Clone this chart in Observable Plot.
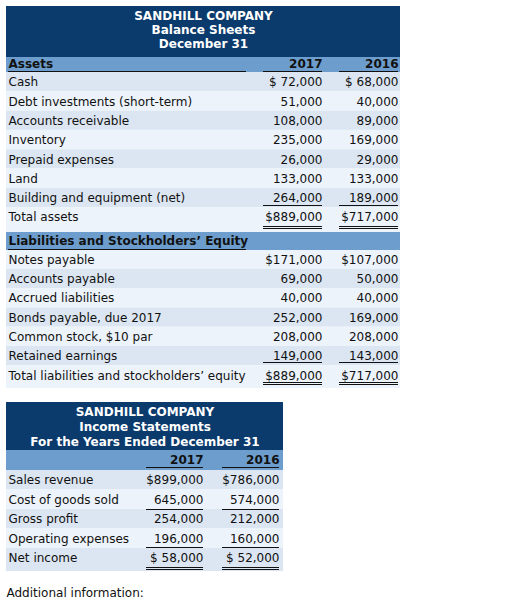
<!DOCTYPE html>
<html><head><meta charset="utf-8">
<script src="https://cdn.jsdelivr.net/npm/d3@7"></script>
<script src="https://cdn.jsdelivr.net/npm/@observablehq/plot@0.6"></script>
<style>body{margin:0;background:#fff} svg{display:block}</style>
</head><body><div id="chart"></div>
<script>
// ---------- data ----------
const company = "SANDHILL COMPANY";
const bsTitle = [company, "Balance Sheets", "December 31"];
const isTitle = [company, "Income Statements", "For the Years Ended December 31"];
const years = ["2017", "2016"];
const assetsHeader = "Assets";
const assetLabels = ["Cash", "Debt investments (short-term)", "Accounts receivable", "Inventory", "Prepaid expenses", "Land", "Building and equipment (net)"];
const assets2017 = [72000, 51000, 108000, 235000, 26000, 133000, 264000];
const assets2016 = [68000, 40000, 89000, 169000, 29000, 133000, 189000];
const totalAssetsLabel = "Total assets";
const totalAssets = [889000, 717000];
const liabHeader = "Liabilities and Stockholders’ Equity";
const liabLabels = ["Notes payable", "Accounts payable", "Accrued liabilities", "Bonds payable, due 2017", "Common stock, $10 par", "Retained earnings"];
const liab2017 = [171000, 69000, 40000, 252000, 208000, 149000];
const liab2016 = [107000, 50000, 40000, 169000, 208000, 143000];
const totalLiabLabel = "Total liabilities and stockholders’ equity";
const totalLiab = [889000, 717000];
const incomeLabels = ["Sales revenue", "Cost of goods sold", "Gross profit", "Operating expenses", "Net income"];
const income2017 = [899000, 645000, 254000, 196000, 58000];
const income2016 = [786000, 574000, 212000, 160000, 52000];
const footnote = "Additional information:";

// ---------- styling / layout ----------
const C = {dark: "#0b3a6c", mid: "#6c9dcc", rowA: "#dce6f2", rowB: "#edf3fb", ink: "#111"};
const fmt = (v, dollar) => dollar ? "$" + d3.format(",")(v).padStart(7, " ") : d3.format(",")(v);

const rects = [], tStart = [], tEnd = [], bStart = [], bEnd = [], wMid = [], rules = [];

// Balance sheet
const bs = {x1: 6, x2: 400, label: 8, cols: [322, 398], colW: 59, secW: 246};
rects.push({x1: bs.x1, x2: bs.x2, y1: 6, y2: 57, fill: C.dark});
bsTitle.forEach((t, i) => wMid.push({x: (bs.x1 + bs.x2) / 2, y: 16 + i * 14, text: t}));
// assets header
rects.push({x1: bs.x1, x2: bs.x2, y1: 57, y2: 72, fill: C.mid});
bStart.push({x: bs.label, y: 64, text: assetsHeader});
rules.push({x1: bs.label, x2: bs.secW, y: 71});
years.forEach((yr, j) => {
  bEnd.push({x: bs.cols[j], y: 64, text: yr});
  rules.push({x1: bs.cols[j] - bs.colW, x2: bs.cols[j], y: 71});
});
function section(labels, v17, v16, totalLabel, totals, c0, yTop, yEnd, singleY, doubleY) {
  const step = 19.3;
  const n = labels.length;
  labels.concat([totalLabel]).forEach((lab, i) => {
    const cy = c0 + i * step;
    const y1 = i === 0 ? yTop : cy - 10;
    const y2 = i === n ? yEnd : cy + 9.3;
    rects.push({x1: bs.x1, x2: bs.x2, y1, y2, fill: (i % 2 === 0) === (yTop < 100) ? C.rowA : C.rowB});
    tStart.push({x: bs.label, y: cy, text: lab});
    const vals = i === n ? totals : [v17[i], v16[i]];
    const dollar = i === 0 || i === n;
    vals.forEach((v, j) => tEnd.push({x: bs.cols[j], y: cy, text: fmt(v, dollar)}));
  });
  bs.cols.forEach(cx => {
    rules.push({x1: cx - bs.colW, x2: cx, y: singleY});
    rules.push({x1: cx - bs.colW, x2: cx, y: doubleY});
    rules.push({x1: cx - bs.colW, x2: cx, y: doubleY + 2});
  });
}
section(assetLabels, assets2017, assets2016, totalAssetsLabel, totalAssets, 82, 72, 232, 205, 226);
// liabilities header
rects.push({x1: bs.x1, x2: bs.x2, y1: 232, y2: 250, fill: C.mid});
bStart.push({x: bs.label, y: 241, text: liabHeader});
rules.push({x1: bs.label, x2: bs.secW, y: 249});
section(liabLabels, liab2017, liab2016, totalLiabLabel, totalLiab, 259.5, 250, 388, 362, 382);

// Income statement
const is = {x1: 6, x2: 283, label: 8, cols: [203, 279], colW: 57};
rects.push({x1: is.x1, x2: is.x2, y1: 402, y2: 450, fill: C.dark});
isTitle.forEach((t, i) => wMid.push({x: (is.x1 + is.x2) / 2, y: 412 + i * 15, text: t}));
rects.push({x1: is.x1, x2: is.x2, y1: 450, y2: 470, fill: C.mid});
years.forEach((yr, j) => {
  bEnd.push({x: is.cols[j], y: 460, text: yr});
  rules.push({x1: is.cols[j] - is.colW, x2: is.cols[j], y: 467});
});
incomeLabels.forEach((lab, i) => {
  const cy = 480 + i * 19.5;
  const last = i === incomeLabels.length - 1;
  rects.push({x1: is.x1, x2: is.x2, y1: i === 0 ? 470 : cy - 10, y2: last ? 571 : cy + 9.5, fill: i % 2 === 0 ? C.rowA : C.rowB});
  tStart.push({x: is.label, y: cy, text: lab});
  const dollar = i === 0 || last;
  [income2017[i], income2016[i]].forEach((v, j) => tEnd.push({x: is.cols[j], y: cy, text: fmt(v, dollar)}));
});
const isSingles = [509, 547], isDouble = 567;
is.cols.forEach(cx => {
  isSingles.forEach(y => rules.push({x1: cx - is.colW, x2: cx, y}));
  rules.push({x1: cx - is.colW, x2: cx, y: isDouble});
  rules.push({x1: cx - is.colW, x2: cx, y: isDouble + 2});
});
tStart.push({x: 6, y: 593, text: footnote});

const font = 12;
const chart = Plot.plot({
  width: 508, height: 615, margin: 0,
  x: {type: "identity", axis: null},
  y: {type: "identity", axis: null},
  style: {fontFamily: "Verdana, 'DejaVu Sans', sans-serif", background: "#fff"},
  marks: [
    Plot.rect(rects, {x1: "x1", x2: "x2", y1: "y1", y2: "y2", fill: d => d.fill}),
    Plot.ruleY(rules, {y: "y", x1: "x1", x2: "x2", stroke: C.ink, strokeWidth: 1}),
    Plot.text(tStart, {x: "x", y: "y", text: "text", textAnchor: "start", fill: C.ink, fontSize: font}),
    Plot.text(tEnd, {x: "x", y: "y", text: "text", textAnchor: "end", fill: C.ink, fontSize: font}),
    Plot.text(bStart, {x: "x", y: "y", text: "text", textAnchor: "start", fill: C.ink, fontSize: font, fontWeight: "bold"}),
    Plot.text(bEnd, {x: "x", y: "y", text: "text", textAnchor: "end", fill: C.ink, fontSize: font, fontWeight: "bold"}),
    Plot.text(wMid, {x: "x", y: "y", text: "text", textAnchor: "middle", fill: "#fff", fontSize: font, fontWeight: "bold"})
  ]
});
document.getElementById("chart").append(chart);
</script></body></html>
